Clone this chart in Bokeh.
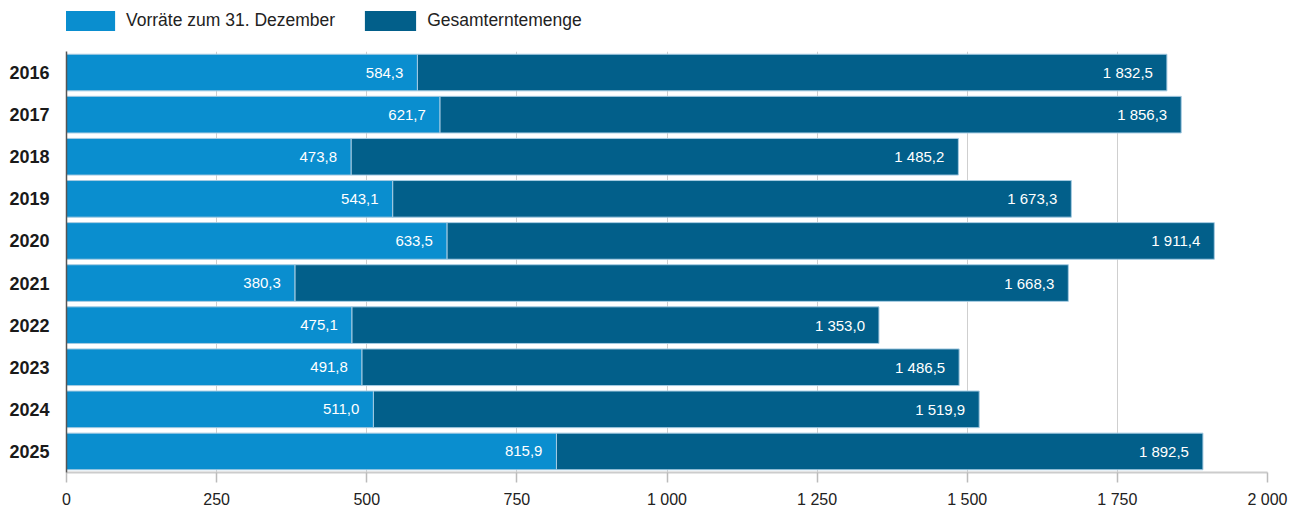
from bokeh.plotting import figure
from bokeh.layouts import column
from bokeh.models import ColumnDataSource, FactorRange, Legend, LegendItem, FixedTicker
from bokeh.embed import file_html
from bokeh.resources import INLINE

years = ["2016", "2017", "2018", "2019", "2020", "2021", "2022", "2023", "2024", "2025"]
vorraete = [584.3, 621.7, 473.8, 543.1, 633.5, 380.3, 475.1, 491.8, 511.0, 815.9]
gesamt = [1832.5, 1856.3, 1485.2, 1673.3, 1911.4, 1668.3, 1353.0, 1486.5, 1519.9, 1892.5]
x_ticks = [0, 250, 500, 750, 1000, 1250, 1500, 1750, 2000]
series_names = ["Vorräte zum 31. Dezember", "Gesamterntemenge"]


def fmt(v):
    s = f"{v:,.1f}"
    return s.replace(",", " ").replace(".", ",")


def fmt_tick(v):
    return f"{v:,}".replace(",", " ")


LIGHT = "#0a8ecf"
DARK = "#025f8a"
OUTLINE = "#a6cbe2"

src = ColumnDataSource(dict(
    year=years, v=vorraete, g=gesamt,
    vl=[fmt(x) for x in vorraete], gl=[fmt(x) for x in gesamt],
))

# ---------------- main chart ----------------
p = figure(width=1306, height=459, output_backend="svg", toolbar_location=None,
           y_range=FactorRange(factors=years[::-1], range_padding=0.0),
           x_range=(0, 2000),
           min_border_left=66, min_border_right=39, min_border_top=0, min_border_bottom=36)
p.outline_line_color = None
p.background_fill_color = "white"

r_g = p.hbar(y="year", left="v", right="g", height=0.87, source=src,
             fill_color=DARK, line_color=OUTLINE, line_width=1)
r_v = p.hbar(y="year", left=0, right="v", height=0.87, source=src,
             fill_color=LIGHT, line_color=OUTLINE, line_width=1)

p.text(x="v", y="year", text="vl", source=src, text_align="right", text_baseline="middle",
       x_offset=-14, text_color="white", text_font_size="15px",
       text_font={"value": "Liberation Sans"})
p.text(x="g", y="year", text="gl", source=src, text_align="right", text_baseline="middle",
       x_offset=-14, text_color="white", text_font_size="15px",
       text_font={"value": "Liberation Sans"})

p.xaxis.ticker = FixedTicker(ticks=x_ticks)
p.xaxis.major_label_overrides = {t: fmt_tick(t) for t in x_ticks}
p.xaxis.axis_line_color = "#cccccc"
p.xaxis.axis_line_width = 2
p.xaxis.major_tick_line_color = "#bbbbbb"
p.xaxis.major_tick_line_width = 1.5
p.xaxis.major_tick_in = 0
p.xaxis.major_tick_out = 10
p.xaxis.minor_tick_line_color = None
p.xaxis.major_label_text_font = "Liberation Sans"
p.xaxis.major_label_text_font_size = "16px"
p.xaxis.major_label_text_color = "#222222"
p.xaxis.major_label_standoff = 8

p.yaxis.axis_line_color = "#555555"
p.yaxis.axis_line_width = 1.5
p.yaxis.major_tick_line_color = None
p.yaxis.minor_tick_line_color = None
p.yaxis.major_label_text_font = "Liberation Sans"
p.yaxis.major_label_text_font_style = "bold"
p.yaxis.major_label_text_font_size = "18px"
p.yaxis.major_label_text_color = "#1a1a1a"
p.yaxis.major_label_standoff = 11

p.xgrid.grid_line_color = "#cfcfcf"
p.xgrid.grid_line_width = 1
p.ygrid.grid_line_color = None

# ---------------- legend strip ----------------
# zero-height copies of the two series: invisible, they only supply the legend swatches
lf = figure(width=1306, height=51, output_backend="svg", toolbar_location=None,
            x_range=(0, 2000), y_range=FactorRange(factors=years[::-1]),
            min_border_left=66, min_border_right=39, min_border_top=0, min_border_bottom=0)
lf.axis.visible = False
lf.grid.visible = False
lf.outline_line_color = None
d_v = lf.hbar(y="year", left=0, right="v", height=0, source=src,
              fill_color=LIGHT, line_color=None)
d_g = lf.hbar(y="year", left="v", right="g", height=0, source=src,
              fill_color=DARK, line_color=None)

legend = Legend(items=[LegendItem(label=series_names[0], renderers=[d_v]),
                       LegendItem(label=series_names[1], renderers=[d_g])],
                location=(-9, 18), orientation="horizontal", spacing=23,
                glyph_width=64, glyph_height=25, label_standoff=5,
                label_text_font="Liberation Sans", label_text_font_size="17.5px",
                label_text_color="#222222", padding=0, margin=0,
                border_line_alpha=0, background_fill_alpha=0, label_height=25)
lf.add_layout(legend)

layout = column(lf, p, spacing=0)
open("out.html", "w").write(file_html(layout, INLINE))
